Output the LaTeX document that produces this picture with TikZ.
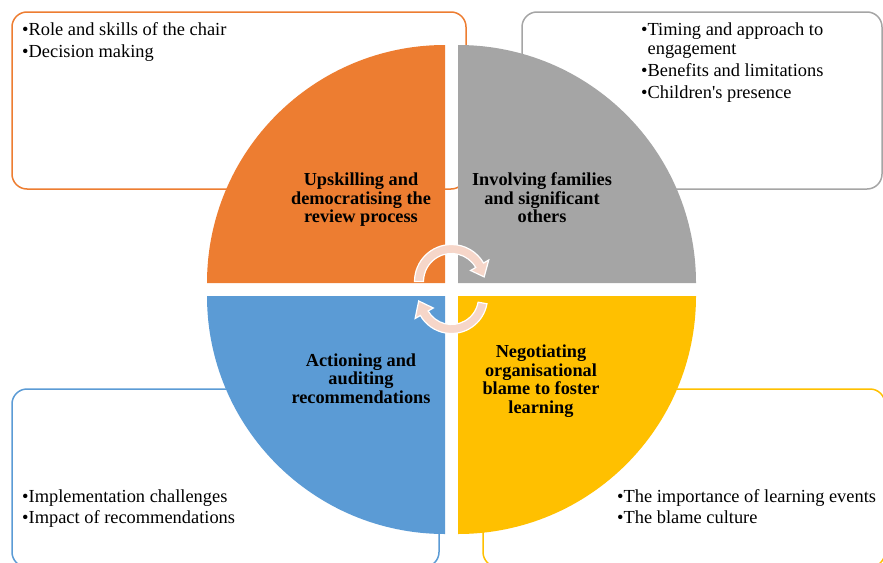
\documentclass[tikz,border=0pt]{standalone}
\usepackage{fontspec}
\setmainfont{Liberation Serif}
\definecolor{cOrange}{HTML}{ED7D31}
\definecolor{cGrey}{HTML}{A5A5A5}
\definecolor{cBlue}{HTML}{5B9BD5}
\definecolor{cYellow}{HTML}{FFC000}
\definecolor{cArrow}{RGB}{246,214,201}
\tikzset{
  pane/.style={line width=1.5pt, rounded corners=15pt, fill=white},
  bulletitem/.style={anchor=base west, inner sep=0pt, font=\fontsize{18.4}{18.5}\selectfont},
  quadtext/.style={anchor=base, inner sep=0pt, font=\fontsize{18.3}{18.5}\selectfont\bfseries},
  cycarrow/.style={fill=cArrow, draw=white, line width=1.2pt, line join=miter}
}
\begin{document}
\begin{tikzpicture}[x=1pt,y=-1pt]
\useasboundingbox (0,0) rectangle (883,562);
\clip (0,0) rectangle (883,562);
% text boxes behind the pie
\draw[pane, draw=cOrange] (12,12) rectangle (466,189);
\draw[pane, draw=cGrey] (522,12) rectangle (882,189);
\draw[pane, draw=cBlue] (12,389) rectangle (439,567);
\draw[pane, draw=cYellow] (483,389) rectangle (885,567);
% quadrants
\fill[cOrange] (445,283) -- (207,283) arc[start angle=180, end angle=270, radius=238] -- cycle;
\fill[cGrey] (458,283) -- (458,45) arc[start angle=270, end angle=360, radius=238] -- cycle;
\fill[cYellow] (458,296) -- (696,296) arc[start angle=0, end angle=90, radius=238] -- cycle;
\fill[cBlue] (445,296) -- (445,534) arc[start angle=90, end angle=180, radius=238] -- cycle;
% circular arrows
\coordinate (ct) at (451.5,281.5);
\coordinate (cb) at (451.5,297.5);
\path[cycarrow] ([shift={(ct)}]180:37) arc[start angle=180, end angle=330, radius=37]
  -- ([shift={(ct)}]330:43) -- ([shift={(ct)}]352:33) -- ([shift={(ct)}]330:22)
  -- ([shift={(ct)}]330:28) arc[start angle=330, end angle=180, radius=28] -- cycle;
\path[cycarrow] ([shift={(cb)}]10:36) arc[start angle=10, end angle=150, radius=36]
  -- ([shift={(cb)}]150:42) -- ([shift={(cb)}]174:33) -- ([shift={(cb)}]150:21)
  -- ([shift={(cb)}]150:27) arc[start angle=150, end angle=10, radius=27] -- cycle;
% quadrant titles
\node[quadtext] (o1) at (361,185.5) {Upskilling and};
\node[quadtext] (o2) at (361,204) {democratising the};
\node[quadtext] (o3) at (361,222.5) {review process};
\node[quadtext] (g1) at (542,185.5) {Involving families};
\node[quadtext] (g2) at (542,204) {and significant};
\node[quadtext] (g3) at (542,222.5) {others};
\node[quadtext] (b1) at (361,366) {Actioning and};
\node[quadtext] (b2) at (361,384.5) {auditing};
\node[quadtext] (b3) at (361,403) {recommendations};
\node[quadtext] (y1) at (541,357.5) {Negotiating};
\node[quadtext] (y2) at (541,376) {organisational};
\node[quadtext] (y3) at (541,394.5) {blame to foster};
\node[quadtext] (y4) at (541,413) {learning};
% bullet items
\node[bulletitem] (ob1) at (22,35.5) {\textbullet Role and skills of the chair};
\node[bulletitem] (ob2) at (22,57.5) {\textbullet Decision making};
\node[bulletitem] (gb1) at (641,35.5) {\textbullet Timing and approach to};
\node[bulletitem] (gb1b) at (641,54) {\phantom{\textbullet}engagement};
\node[bulletitem] (gb2) at (641,76.5) {\textbullet Benefits and limitations};
\node[bulletitem] (gb3) at (641,98.5) {\textbullet Children\textquotesingle s presence};
\node[bulletitem] (bb1) at (22,502) {\textbullet Implementation challenges};
\node[bulletitem] (bb2) at (22,523.5) {\textbullet Impact of recommendations};
\node[bulletitem] (yb1) at (617,502) {\textbullet The importance of learning events};
\node[bulletitem] (yb2) at (617,523.5) {\textbullet The blame culture};
\end{tikzpicture}
\end{document}
